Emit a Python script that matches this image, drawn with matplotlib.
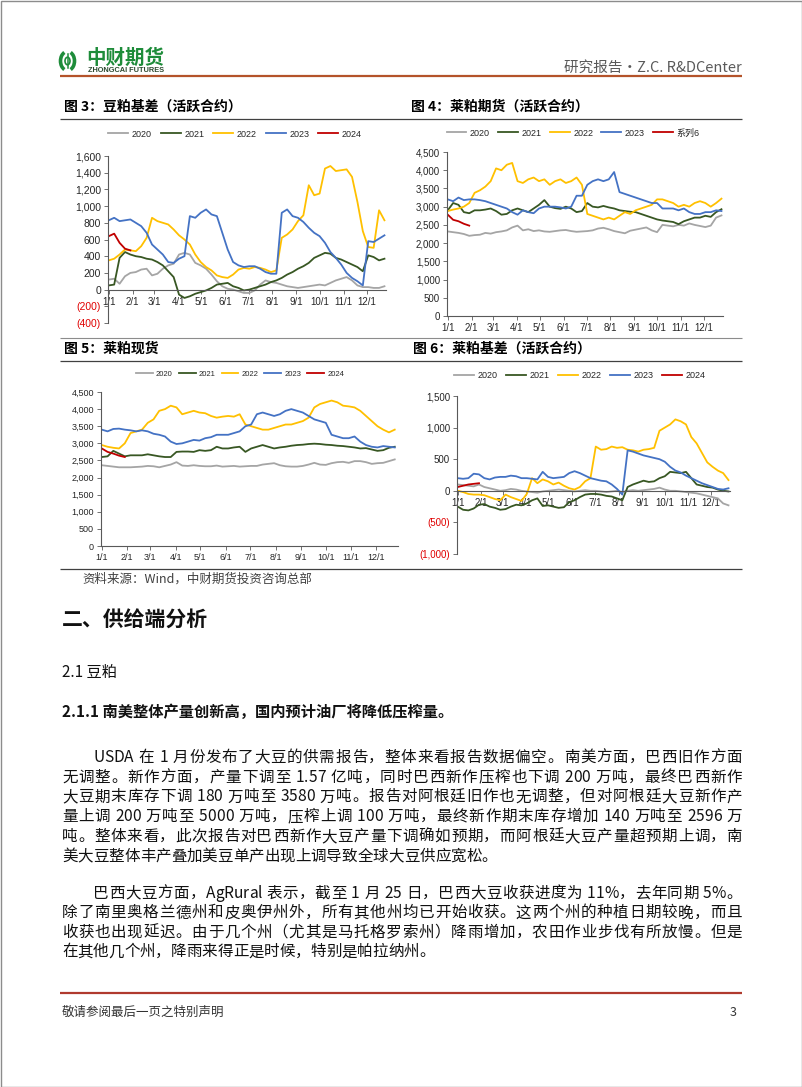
import numpy as np
import matplotlib
matplotlib.use('Agg')
import matplotlib.pyplot as plt
from matplotlib.patches import Rectangle, Ellipse, Arc
from matplotlib.font_manager import FontProperties, findfont, get_font

W, H = 802, 1087
plt.rcParams['font.family'] = ['Liberation Sans', 'Noto Sans CJK SC', 'DejaVu Sans']
CJK = ['Noto Sans CJK SC', 'DejaVu Sans']

# ---------------- data ----------------
month_days = [0, 31, 59, 90, 120, 151, 181, 212, 243, 273, 304, 334]
month_labels = ['1/1', '2/1', '3/1', '4/1', '5/1', '6/1', '7/1', '8/1', '9/1', '10/1', '11/1', '12/1']
week_days = list(range(0, 358, 7))      # one point per week
days_2024 = [0, 7, 14, 21, 28]

year_labels = ['2020', '2021', '2022', '2023', '2024']
fut_labels = ['2020', '2021', '2022', '2023', '系列6']

# fig 3: soybean meal basis
sm_basis_2020 = [120, 130, 70, 160, 200, 210, 240, 250, 170, 190, 250, 290, 310, 420, 440, 420, 320, 290, 250, 180,
                 100, 40, 10, 0, -20, -40, -40, -10, 60, 110, 90, 80, 60, 40, 30, 20, 30, 40, 50, 60,
                 50, 80, 110, 130, 150, 110, 50, 30, 30, 20, 20, 40]
sm_basis_2021 = [50, 60, 380, 450, 420, 400, 390, 370, 360, 330, 290, 220, 150, -60, -100, -80, -50, -30, -10, 20,
                 60, 70, 80, 40, 20, -10, 0, 20, 40, 60, 90, 110, 140, 180, 210, 250, 280, 320, 380, 410,
                 440, 430, 380, 360, 330, 300, 270, 220, 410, 390, 350, 370]
sm_basis_2022 = [350, 370, 420, 480, 470, 460, 520, 620, 860, 820, 800, 780, 720, 650, 600, 540, 420, 330, 270, 230,
                 170, 150, 140, 180, 240, 260, 250, 270, 260, 240, 210, 230, 620, 660, 720, 820, 890, 1250, 1130, 1150,
                 1450, 1480, 1420, 1430, 1440, 1350, 1050, 700, 510, 500, 950, 830]
sm_basis_2023 = [830, 860, 820, 830, 840, 800, 760, 680, 540, 480, 420, 330, 320, 370, 400, 880, 860, 920, 960, 900,
                 880, 680, 480, 330, 290, 270, 280, 280, 250, 210, 190, 190, 920, 960, 880, 860, 810, 740, 680, 640,
                 560, 450, 380, 300, 200, 140, 100, 50, 580, 570, 610, 650]
sm_basis_2024 = [640, 670, 560, 490, 470]

# fig 4: rapeseed meal futures
rm_fut_2020 = [2320, 2300, 2280, 2250, 2200, 2220, 2230, 2280, 2260, 2300, 2320, 2350, 2430, 2480, 2350, 2380, 2330,
               2350, 2320, 2310, 2330, 2350, 2360, 2330, 2310, 2320, 2330, 2350, 2400, 2420, 2380, 2330, 2300, 2270,
               2340, 2370, 2400, 2430, 2350, 2300, 2500, 2480, 2460, 2500, 2480, 2540, 2500, 2470, 2440, 2480, 2700, 2760]
rm_fut_2021 = [2900, 3100, 3050, 2850, 2820, 2900, 2900, 2920, 2950, 2880, 2780, 2800, 2900, 2950, 2900, 2850, 2950,
               3050, 3180, 3000, 2960, 2940, 3000, 2950, 2850, 2880, 3100, 3000, 2980, 3020, 2980, 2950, 2900, 2880,
               2860, 2850, 2800, 2750, 2700, 2650, 2620, 2600, 2580, 2520, 2600, 2650, 2700, 2700, 2750, 2720, 2850, 2930]
rm_fut_2022 = [2880, 2920, 2950, 3000, 3100, 3380, 3450, 3550, 3700, 4050, 4000, 4150, 4200, 3700, 3650, 3750, 3800,
               3700, 3750, 3600, 3700, 3750, 3650, 3700, 3800, 3600, 2800, 2750, 2700, 2650, 2700, 2650, 2750, 2850,
               2800, 2900, 2950, 3000, 3050, 3200, 3200, 3150, 3100, 3000, 3050, 3000, 3100, 3150, 3100, 3000, 3100, 3220]
rm_fut_2023 = [3200, 3150, 3250, 3180, 3200, 3200, 3180, 3150, 3100, 3050, 3000, 2950, 2850, 2780, 2900, 2850, 2820,
               2950, 3000, 3000, 3000, 2980, 2950, 3000, 3300, 3300, 3600, 3700, 3750, 3700, 3750, 3950, 3400, 3350,
               3300, 3250, 3200, 3150, 3100, 3100, 2950, 2950, 2950, 2900, 2950, 2850, 2800, 2800, 2850, 2850, 2900, 2880]
rm_fut_s6 = [2780, 2640, 2600, 2530, 2480]

# fig 5: rapeseed meal spot
rm_spot_2020 = [2360, 2340, 2320, 2300, 2300, 2300, 2310, 2320, 2340, 2330, 2300, 2340, 2380, 2450, 2350, 2340, 2360,
                2340, 2330, 2330, 2350, 2320, 2330, 2340, 2320, 2330, 2340, 2340, 2380, 2400, 2420, 2360, 2330, 2320,
                2320, 2340, 2380, 2430, 2380, 2370, 2420, 2450, 2460, 2430, 2480, 2480, 2450, 2400, 2420, 2430, 2480, 2530]
rm_spot_2021 = [2600, 2620, 2780, 2700, 2620, 2650, 2650, 2650, 2680, 2650, 2620, 2600, 2600, 2750, 2760, 2760, 2750,
                2800, 2780, 2800, 2900, 2850, 2850, 2880, 2900, 2750, 2850, 2900, 2950, 2900, 2850, 2880, 2900, 2930,
                2950, 2960, 2980, 2990, 2980, 2960, 2950, 2930, 2920, 2900, 2880, 2850, 2860, 2820, 2780, 2800, 2870, 2900]
rm_spot_2022 = [2950, 2900, 2870, 2850, 3000, 3300, 3350, 3400, 3600, 3700, 3950, 4000, 4100, 4050, 3850, 3900, 3950,
                3900, 3880, 3800, 3750, 3780, 3800, 3780, 3850, 3550, 3500, 3450, 3400, 3400, 3450, 3500, 3550, 3550,
                3600, 3650, 3750, 4050, 4150, 4200, 4250, 4200, 4100, 4080, 4050, 3950, 3800, 3650, 3500, 3400, 3320, 3400]
rm_spot_2023 = [3400, 3350, 3420, 3430, 3400, 3380, 3350, 3380, 3350, 3280, 3250, 3200, 3050, 2980, 3000, 3050, 3100,
                3080, 3150, 3180, 3250, 3250, 3250, 3300, 3350, 3500, 3550, 3850, 3900, 3850, 3800, 3850, 3950, 4000,
                3950, 3900, 3800, 3700, 3650, 3600, 3250, 3200, 3150, 3150, 3200, 3050, 2950, 2900, 2880, 2920, 2900, 2880]
rm_spot_2024 = [2850, 2750, 2700, 2640, 2600]

# fig 6: rapeseed meal basis
rm_basis_2020 = [100, 90, 80, 70, 100, 60, 40, 20, 0, 10, 30, 20, 0, -10, -20, -30, -10, 0, 10, 20, 10, 0, -10, 0, 10,
                 0, 0, -10, -20, -10, 0, -20, 0, 10, 0, 10, 20, 30, 50, 20, 0, 0, -10, -20, -30, -40, -60, -80, -100,
                 -120, -200, -230]
rm_basis_2021 = [-250, -300, -310, -280, -220, -210, -250, -270, -300, -290, -250, -220, -230, -200, -150, -120, -240,
                 -230, -250, -270, -260, -180, -150, -100, -60, -50, -50, -60, -80, -90, -120, -150, 60, 100, 130, 160,
                 140, 150, 200, 230, 300, 290, 280, 300, 200, 100, 80, 60, 50, 20, 0, -10]
rm_basis_2022 = [0, -20, -50, -60, -60, -70, -100, -130, -150, -60, -100, -130, -160, -50, 200, 120, 180, 150, 100, 130,
                 80, 40, 20, 60, 150, 200, 700, 650, 660, 700, 680, 690, 650, 640, 620, 650, 660, 680, 950, 1000, 1050,
                 1130, 1100, 1050, 850, 750, 600, 450, 380, 320, 280, 170]
rm_basis_2023 = [200, 190, 200, 270, 260, 200, 180, 210, 220, 220, 240, 230, 200, 200, 190, 180, 300, 220, 200, 210, 220,
                 280, 310, 280, 240, 200, 180, 160, 150, 100, 30, -60, 640, 620, 590, 560, 540, 520, 500, 460, 380, 320,
                 290, 240, 200, 160, 120, 90, 60, 30, 20, 40]
rm_basis_2024 = [60, 80, 100, 110, 120]

body_p1 = ['USDA 在 1 月份发布了大豆的供需报告，整体来看报告数据偏空。南美方面，巴西旧作方面',
           '无调整。新作方面，产量下调至 1.57 亿吨，同时巴西新作压榨也下调 200 万吨，最终巴西新作',
           '大豆期末库存下调 180 万吨至 3580 万吨。报告对阿根廷旧作也无调整，但对阿根廷大豆新作产',
           '量上调 200 万吨至 5000 万吨，压榨上调 100 万吨，最终新作期末库存增加 140 万吨至 2596 万',
           '吨。整体来看，此次报告对巴西新作大豆产量下调确如预期，而阿根廷大豆产量超预期上调，南',
           '美大豆整体丰产叠加美豆单产出现上调导致全球大豆供应宽松。']
body_p2 = ['巴西大豆方面，AgRural 表示，截至 1 月 25 日，巴西大豆收获进度为 11%，去年同期 5%。',
           '除了南里奥格兰德州和皮奥伊州外，所有其他州均已开始收获。这两个州的种植日期较晚，而且',
           '收获也出现延迟。由于几个州（尤其是马托格罗索州）降雨增加，农田作业步伐有所放慢。但是',
           '在其他几个州，降雨来得正是时候，特别是帕拉纳州。']

colors = ['#A5A5A5', '#385723', '#FFC000', '#4472C4', '#C00000']

# ---------------- page ----------------
fig = plt.figure(figsize=(W / 100, H / 100), dpi=100)
page = fig.add_axes([0, 0, 1, 1])
page.set_xlim(0, W)
page.set_ylim(H, 0)
page.set_autoscale_on(False)
page.axis('off')

page.add_patch(Rectangle((0.5, 0.5), W - 1, H - 1, fill=False, ec='#8c8c8c', lw=1.0))


def hline(y, color='#404040', lw=0.9, x0=60, x1=742):
    page.plot([x0, x1], [y, y], color=color, lw=lw, solid_capstyle='butt')


def txt(x, y, s, size, **kw):
    kw.setdefault('va', 'center')
    kw.setdefault('family', CJK)
    page.text(x, y, s, fontsize=size, **kw)


# header / logo
green = '#1E8C3A'
page.add_patch(Arc((67.5, 61), 14, 19, theta1=110, theta2=250, color=green, lw=2.6))
page.add_patch(Arc((67.5, 61), 14, 19, theta1=-70, theta2=70, color=green, lw=2.6))
page.add_patch(Ellipse((67.5, 61), 5, 7.5, fill=False, ec=green, lw=1.2))
page.plot([67.5, 67.5], [54, 68], color=green, lw=1.1)
txt(86, 58, '中财期货', 14, color=green, weight='heavy')
txt(88, 70.5, 'ZHONGCAI FUTURES', 5.3, color='#2d4a30', weight='bold', family=['Liberation Sans'])
txt(742, 68, '研究报告•Z.C. R&DCenter', 10.5, ha='right', color='#595959')
hline(76, color='#B4532A', lw=1.6)

# chart frame lines and titles
hline(119)
hline(338, color='#8c8c8c', lw=0.8)
hline(361)
hline(569)
txt(64, 107, '图 3：豆粕基差（活跃合约）', 10, weight='bold')
txt(411, 107, '图 4：莱粕期货（活跃合约）', 10, weight='bold')
txt(64, 349, '图 5：莱粕现货', 10, weight='bold')
txt(413, 349, '图 6：莱粕基差（活跃合约）', 10, weight='bold')


def fmt_num(v):
    return f'{v:,.0f}' if v >= 0 else f'({-v:,.0f})'


def chart(box, series, labels, ylim, ystep, xmax, leg_xy, tick_fs=7, ytick_fs=7, leg_fs=6.5, colsp=1.0):
    l, t, r, b = box
    ax = fig.add_axes([l / W, 1 - b / H, (r - l) / W, (b - t) / H])
    ax.patch.set_alpha(0)
    handles = []
    for (days, vals), c in zip(series, colors):
        h, = ax.plot(days, vals, color=c, lw=1.3)
        handles.append(h)
    ax.set_xlim(-1, xmax)
    ax.set_ylim(*ylim)
    for s in ['top', 'right']:
        ax.spines[s].set_visible(False)
    ax.spines['bottom'].set_position(('data', 0))
    for s in ['left', 'bottom']:
        ax.spines[s].set_color('#595959')
        ax.spines[s].set_linewidth(0.8)
    yt = np.arange(ylim[0], ylim[1] + 1, ystep)
    ax.set_yticks(yt, [fmt_num(v) for v in yt])
    ax.set_xticks(month_days, month_labels)
    ax.tick_params(labelsize=tick_fs, length=3, width=0.6, color='#595959', pad=2, labelcolor='#262626')
    ax.tick_params(axis='y', labelsize=ytick_fs)
    for v, lab in zip(yt, ax.get_yticklabels()):
        if v < 0:
            lab.set_color('#E00000')
    fig.legend(handles, labels, loc='center', bbox_to_anchor=(leg_xy[0] / W, 1 - leg_xy[1] / H), ncol=5,
               frameon=False, fontsize=leg_fs, handlelength=2.2, handletextpad=0.4, columnspacing=colsp,
               borderpad=0, labelcolor='#262626')
    return ax


chart((108, 156, 386, 323),
      [(week_days, sm_basis_2020), (week_days, sm_basis_2021), (week_days, sm_basis_2022),
       (week_days, sm_basis_2023), (days_2024, sm_basis_2024)],
      year_labels, (-400, 1600), 200, 359, (235, 134), ytick_fs=7.5, colsp=1.0)
chart((447, 152, 723, 316),
      [(week_days, rm_fut_2020), (week_days, rm_fut_2021), (week_days, rm_fut_2022),
       (week_days, rm_fut_2023), (days_2024, rm_fut_s6)],
      fut_labels, (0, 4500), 500, 359, (573, 133), colsp=0.9)
chart((101, 392, 398, 546),
      [(week_days, rm_spot_2020), (week_days, rm_spot_2021), (week_days, rm_spot_2022),
       (week_days, rm_spot_2023), (days_2024, rm_spot_2024)],
      year_labels, (0, 4500), 500, 361, (240, 374), tick_fs=6.5, ytick_fs=6.5, leg_fs=5.5, colsp=0.8)
chart((457, 396, 730, 554),
      [(week_days, rm_basis_2020), (week_days, rm_basis_2021), (week_days, rm_basis_2022),
       (week_days, rm_basis_2023), (days_2024, rm_basis_2024)],
      year_labels, (-1000, 1500), 500, 359, (580, 376), colsp=0.95)

# ---------------- text ----------------
txt(82, 579, '资料来源：Wind，中财期货投资咨询总部', 9, color='#404040')
txt(62, 620, '二、供给端分析', 15, weight='bold', color='#111111')
txt(62, 672, '2.1 豆粕', 11, color='#111111')
txt(62, 712, '2.1.1 南美整体产量创新高，国内预计油厂将降低压榨量。', 11, weight='bold', color='#111111')

BODY_PT = 11.2
body_fp = FontProperties(family=CJK, size=BODY_PT)
ft = get_font(findfont(body_fp))
ft.set_size(BODY_PT, 100)


def adv(ch):
    return ft.load_char(ord(ch)).linearHoriAdvance / 65536


def is_latin(ch):
    return ord(ch) < 128 and ch != ' '


def body_line(y, s, x0, x1=742, justify=True):
    a = [adv(c) for c in s]
    gaps = {i for i in range(len(s) - 1) if not (is_latin(s[i]) and is_latin(s[i + 1]))}
    extra = (x1 - x0 - sum(a)) / len(gaps) if (justify and gaps) else 0
    x = x0
    for i, c in enumerate(s):
        if c != ' ':
            page.text(x, y, c, fontproperties=body_fp, va='baseline', ha='left', color='#111111')
        x += a[i] + (extra if i in gaps else 0)


em = BODY_PT * 100 / 72
for k, line in enumerate(body_p1):
    body_line(756 + 19.8 * k + 5.8, line, 62 + (2 * em if k == 0 else 0), justify=k < len(body_p1) - 1)
for k, line in enumerate(body_p2):
    body_line(892 + 19.5 * k + 5.8, line, 62 + (2 * em if k == 0 else 0), justify=k < len(body_p2) - 1)

# footer
hline(993, color='#B03A2E', lw=1.6)
txt(62, 1012, '敬请参阅最后一页之特别声明', 9, color='#333333')
txt(733, 1012, '3', 9, ha='center', color='#333333')

fig.savefig('out.png', dpi=100)
